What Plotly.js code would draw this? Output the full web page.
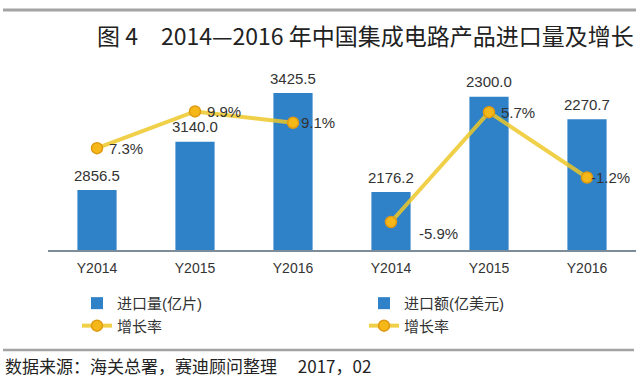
<!DOCTYPE html>
<html>
<head>
<meta charset="utf-8">
<script src="https://cdn.plot.ly/plotly-3.0.1.min.js"></script>
<style>html,body{margin:0;padding:0;background:#fff;}#chart{width:640px;height:377px;}</style>
</head>
<body>
<div id="chart"></div>
<script>
// ---- data ----
const categories = ['Y2014', 'Y2015', 'Y2016'];
const importVolume = [2856.5, 3140.0, 3425.5];      // 进口量(亿片)
const importVolumeGrowth = [7.3, 9.9, 9.1];          // 增长率 (%)
const importValue = [2176.2, 2300.0, 2270.7];        // 进口额(亿美元)
const importValueGrowth = [-5.9, 5.7, -1.2];         // 增长率 (%)
const volumeName = '进口量(亿片)';
const valueName = '进口额(亿美元)';
const growthName = '增长率';
const titleText = '图 4　2014—2016 年中国集成电路产品进口量及增长';
const sourceText = '数据来源：海关总署，赛迪顾问整理　 2017，02';

// ---- styles ----
const barColor = '#2f82c8';
const lineColor = 'rgba(236,200,40,0.85)';
const markerColor = '#f5b818';
const markerLine = '#e09a12';
const latin = 'Liberation Sans, Arial, Noto Sans CJK SC, sans-serif';
const cjk = 'Noto Sans CJK SC, sans-serif';
const txtColor = '#333';

const hidden = {visible: false, showgrid: false, zeroline: false, fixedrange: true};

const traces = [
  {type: 'bar', x: categories, y: importVolume, xaxis: 'x', yaxis: 'y', name: volumeName,
   width: 0.4, marker: {color: barColor}, legend: 'legend', hoverinfo: 'skip'},
  {type: 'scatter', mode: 'lines+markers', x: categories, y: importVolumeGrowth, xaxis: 'x', yaxis: 'y2',
   name: growthName, line: {color: lineColor, width: 4},
   marker: {color: markerColor, size: 11, line: {color: markerLine, width: 1.5}}, legend: 'legend', hoverinfo: 'skip'},
  {type: 'bar', x: categories, y: importValue, xaxis: 'x2', yaxis: 'y3', name: valueName,
   width: 0.4, marker: {color: barColor}, legend: 'legend2', hoverinfo: 'skip'},
  {type: 'scatter', mode: 'lines+markers', x: categories, y: importValueGrowth, xaxis: 'x2', yaxis: 'y4',
   name: growthName, line: {color: lineColor, width: 4},
   marker: {color: markerColor, size: 11, line: {color: markerLine, width: 1.5}}, legend: 'legend2', hoverinfo: 'skip'}
];

const annotations = [];
function barLabels(vals, xa, ya) {
  vals.forEach((v, i) => annotations.push({
    x: categories[i], y: v, xref: xa, yref: ya, text: v.toFixed(1), showarrow: false,
    xanchor: 'center', yanchor: 'middle', yshift: 15,
    font: {family: latin, size: 15, color: txtColor}
  }));
}
function pctLabels(vals, xa, ya, shifts) {
  vals.forEach((v, i) => annotations.push({
    x: categories[i], y: v, xref: xa, yref: ya, text: v.toFixed(1) + '%', showarrow: false,
    xanchor: 'left', yanchor: 'middle', xshift: shifts[i][0], yshift: shifts[i][1],
    font: {family: latin, size: 15, color: txtColor}
  }));
}
barLabels(importVolume, 'x', 'y');
barLabels(importValue, 'x2', 'y3');
pctLabels(importVolumeGrowth, 'x', 'y2', [[10, 0], [10, 0], [6, 0]]);
pctLabels(importValueGrowth, 'x2', 'y4', [[26, -11], [10, 0], [2, 0]]);

annotations.push({
  xref: 'paper', yref: 'paper', x: -0.0765, y: -0.639, xanchor: 'left', yanchor: 'middle',
  text: sourceText, showarrow: false, font: {family: cjk, size: 17, color: '#222'}
});

const axisX = {
  type: 'category', showline: true, linecolor: '#7d8c99', linewidth: 2, ticks: '',
  showgrid: false, zeroline: false, fixedrange: true, range: [-0.5, 2.5],
  tickfont: {family: latin, size: 14, color: txtColor}, ticklabelstandoff: 4
};

const layout = {
  width: 640, height: 377,
  margin: {l: 48, r: 4, t: 70, b: 127},
  paper_bgcolor: '#fff', plot_bgcolor: '#fff',
  showlegend: true,
  title: {text: titleText, x: 97 / 640, xanchor: 'left', xref: 'container',
          y: 1 - 37 / 377, yanchor: 'middle', yref: 'container',
          font: {family: cjk, size: 23, color: '#222'}},
  xaxis: Object.assign({}, axisX, {domain: [0, 0.5], anchor: 'y'}),
  xaxis2: Object.assign({}, axisX, {domain: [0.5, 1], anchor: 'y3'}),
  yaxis: Object.assign({}, hidden, {range: [2505.2, 3561.1], anchor: 'x'}),
  yaxis2: Object.assign({}, hidden, {range: [0.1, 12.83], overlaying: 'y', anchor: 'x'}),
  yaxis3: Object.assign({}, hidden, {range: [2100.9, 2334.7], anchor: 'x2'}),
  yaxis4: Object.assign({}, hidden, {range: [-8.857, 10.15], overlaying: 'y3', anchor: 'x2'}),
  legend: {x: 0.0493, y: -0.205, xanchor: 'left', yanchor: 'top', orientation: 'v',
           traceorder: 'normal', bgcolor: 'rgba(0,0,0,0)', font: {family: latin, size: 15, color: txtColor}},
  legend2: {x: 0.5374, y: -0.205, xanchor: 'left', yanchor: 'top', orientation: 'v',
            traceorder: 'normal', bgcolor: 'rgba(0,0,0,0)', font: {family: latin, size: 15, color: txtColor}},
  annotations: annotations,
  shapes: [
    {type: 'line', xref: 'paper', yref: 'paper', x0: -0.0765, x1: 1.0, y0: 1.3333, y1: 1.3333,
     line: {color: '#a3a3a3', width: 3}},
    {type: 'line', xref: 'paper', yref: 'paper', x0: -0.0765, x1: 0.9966, y0: -0.5556, y1: -0.5556,
     line: {color: '#a3a3a3', width: 2.5}}
  ],
  hovermode: false
};

Plotly.newPlot('chart', traces, layout, {staticPlot: true, displayModeBar: false});
</script>
</body>
</html>
